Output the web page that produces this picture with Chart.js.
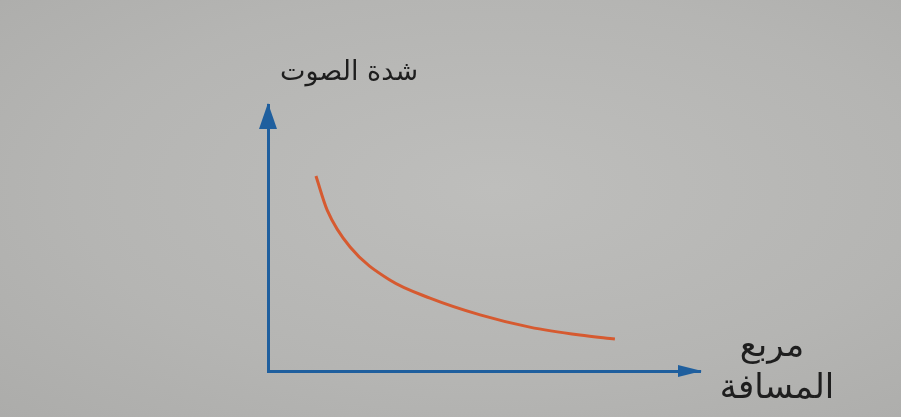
<!DOCTYPE html>
<html>
<head>
<meta charset="utf-8">
<script src="https://cdn.jsdelivr.net/npm/chart.js@4/dist/chart.umd.min.js"></script>
<style>
  html, body { margin: 0; padding: 0; }
  body {
    width: 901px; height: 417px; overflow: hidden;
    background: radial-gradient(ellipse at 55% 45%, #bebebc 0%, #b5b5b3 60%, #acacaa 100%);
  }
  #wrap { position: relative; width: 901px; height: 417px; }
</style>
</head>
<body>
<div id="wrap"><canvas id="c" width="901" height="417"></canvas></div>
<script>
// مربع المسافة (x) و شدة الصوت (y) - قيم تقريبية من الرسم
const distSq = [11.1, 13.7, 19.0, 28.2, 37.5, 49.1, 60.6, 72.2, 80.3];
const intensity = [73.3, 60.5, 46.6, 34.2, 27.4, 21.1, 16.5, 13.5, 12.0];
const yTitle = 'شدة الصوت';
const xTitle = ['مربع', 'المسافة'];

const AXIS_BLUE = '#1f5f9e';

// أسهم المحاور والعناوين
const arrowsPlugin = {
  id: 'arrows',
  afterDraw(chart) {
    const ctx = chart.ctx;
    const a = chart.chartArea;
    ctx.save();
    ctx.fillStyle = AXIS_BLUE;
    // سهم المحور الرأسي
    ctx.beginPath();
    ctx.moveTo(a.left, a.top - 2);
    ctx.lineTo(a.left - 9, a.top + 24);
    ctx.lineTo(a.left + 9, a.top + 24);
    ctx.closePath();
    ctx.fill();
    // سهم المحور الأفقي
    ctx.beginPath();
    ctx.moveTo(a.right + 2, a.bottom);
    ctx.lineTo(a.right - 22, a.bottom - 6);
    ctx.lineTo(a.right - 22, a.bottom + 6);
    ctx.closePath();
    ctx.fill();

    ctx.fillStyle = '#1e1e1e';
    ctx.direction = 'rtl';
    ctx.textBaseline = 'alphabetic';
    ctx.textAlign = 'center';
    ctx.font = '27px "DejaVu Sans"';
    ctx.fillText(yTitle, a.left + 81, a.top - 25);
    ctx.font = '34px "DejaVu Sans"';
    ctx.fillText(xTitle[0], a.right + 72, a.bottom - 15);
    ctx.fillText(xTitle[1], a.right + 77, a.bottom + 27);
    ctx.restore();
  }
};

new Chart(document.getElementById('c'), {
  type: 'line',
  data: {
    datasets: [{
      data: distSq.map((x, i) => ({ x: x, y: intensity[i] })),
      borderColor: '#d65a30',
      borderWidth: 3,
      pointRadius: 0,
      cubicInterpolationMode: 'monotone',
      fill: false
    }]
  },
  options: {
    responsive: false,
    animation: false,
    layout: { padding: { left: 260, right: 201, top: 105, bottom: 38 } },
    plugins: { legend: { display: false }, tooltip: { enabled: false } },
    scales: {
      x: {
        type: 'linear', min: 0, max: 100,
        grid: { display: false },
        ticks: { display: false },
        border: { display: true, color: AXIS_BLUE, width: 3 }
      },
      y: {
        min: 0, max: 100,
        grid: { display: false },
        ticks: { display: false },
        border: { display: true, color: AXIS_BLUE, width: 3 }
      }
    }
  },
  plugins: [arrowsPlugin]
});
</script>
</body>
</html>
